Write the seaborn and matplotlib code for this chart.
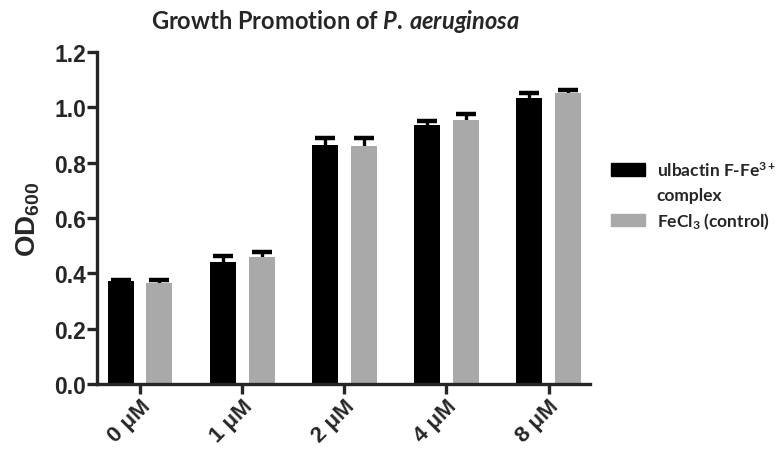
import numpy as np
import pandas as pd
import matplotlib
matplotlib.use("Agg")
import matplotlib.pyplot as plt
from matplotlib.patches import Patch
import seaborn as sns

# values (OD600, mean and upper SEM)
doses = ["0 μM", "1 μM", "2 μM", "4 μM", "8 μM"]
ulbactin_mean = [0.371, 0.442, 0.864, 0.934, 1.033]
ulbactin_err = [0.006, 0.019, 0.024, 0.016, 0.018]
fecl3_mean = [0.364, 0.458, 0.861, 0.954, 1.051]
fecl3_err = [0.013, 0.020, 0.027, 0.022, 0.010]
series = ["ulbactin F-Fe$^{3+}$", "FeCl$_3$ (control)"]
colors = ["#000000", "#a9a9a9"]

df = pd.DataFrame({
    "dose": doses * 2,
    "od": ulbactin_mean + fecl3_mean,
    "err": ulbactin_err + fecl3_err,
    "series": [series[0]] * len(doses) + [series[1]] * len(doses),
})

sns.set_style("ticks")
plt.rcParams["font.family"] = ["Liberation Sans", "DejaVu Sans"]
plt.rcParams["mathtext.fontset"] = "custom"
plt.rcParams["mathtext.rm"] = "Lato:bold"
plt.rcParams["mathtext.it"] = "Lato:italic:bold"
plt.rcParams["mathtext.bf"] = "Liberation Sans:bold"

fig = plt.figure(figsize=(7.83, 4.56), dpi=100)
ax = fig.add_axes([0.124, 0.156, 0.630, 0.728])

sns.barplot(data=df, x="dose", y="od", hue="series", palette=colors,
            width=0.76, gap=0.33, errorbar=None, linewidth=0, zorder=2,
            legend=False, ax=ax)

# error bars sit behind the bars, so only the upper half shows
for bars, s in zip(ax.containers, series):
    sub = df[df.series == s]
    xs = [b.get_x() + b.get_width() / 2 for b in bars]
    ax.errorbar(xs, sub.od.values, yerr=sub.err.values,
                fmt="none", ecolor="black", elinewidth=2.4, capsize=7.5,
                capthick=3.2, zorder=1)

ax.set_ylim(0, 1.2)
ax.set_xlim(-0.42, 4.41)
yt = np.arange(0, 1.21, 0.2)
ax.set_yticks(yt)
ax.set_yticklabels([f"{v:.1f}" for v in yt], fontweight="bold",
                   family="Liberation Sans", fontsize=16.5)
ax.set_xticks(range(len(doses)))
ax.set_xticklabels(doses, fontweight="bold", family="Liberation Sans",
                   fontsize=16, rotation=45, ha="right", rotation_mode="anchor")
sns.despine(ax=ax)
for sp in ["left", "bottom"]:
    ax.spines[sp].set_linewidth(2.4)
ax.tick_params(axis="both", width=2.4, length=7, pad=1)

ax.set_xlabel("")
ax.set_ylabel(r"$\mathbf{OD_{600}}$", fontsize=20, labelpad=9)

ax.set_title(r"Growth Promotion of $P.\,aeruginosa$", fontsize=17,
             family="Lato", fontweight="bold", pad=17, x=0.483)

# second legend row carries the wrapped part of the first label
handles = [Patch(color=colors[0]), Patch(color="none"), Patch(color=colors[1])]
labels = [series[0], "complex", series[1]]
leg = ax.legend(handles, labels, loc="upper left", bbox_to_anchor=(0.771, 0.662),
                bbox_transform=fig.transFigure, frameon=False,
                handlelength=2.0, handleheight=0.75, handletextpad=0.65,
                labelspacing=0.45, borderaxespad=0,
                prop={"family": "Lato", "weight": "bold", "size": 12.5})

fig.savefig("out.png", dpi=100)
